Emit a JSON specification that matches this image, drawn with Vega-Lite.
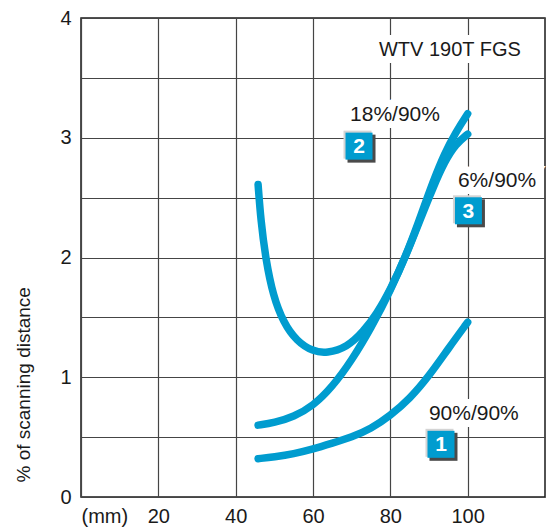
{
  "$schema": "https://vega.github.io/schema/vega-lite/v6.json",
  "width": 464,
  "height": 479,
  "autosize": {"type": "none"},
  "padding": {"left": 81, "top": 18, "right": 1, "bottom": 32},
  "background": "white",
  "config": {
    "view": {"stroke": "#1a1a1a", "strokeWidth": 1.5},
    "font": "Liberation Sans",
    "axis": {
      "domain": false,
      "ticks": false,
      "grid": true,
      "gridColor": "#454545",
      "gridWidth": 1.2,
      "gridOpacity": 1,
      "labelColor": "#1a1a1a",
      "labelFont": "Liberation Sans",
      "labelFontSize": 20
    }
  },
  "datasets": {
    "curves": [
      {"series": "90%/90%", "x": 45.8, "y": 0.32},
      {"series": "90%/90%", "x": 50, "y": 0.335},
      {"series": "90%/90%", "x": 55, "y": 0.36},
      {"series": "90%/90%", "x": 60, "y": 0.40},
      {"series": "90%/90%", "x": 65, "y": 0.45},
      {"series": "90%/90%", "x": 70, "y": 0.50},
      {"series": "90%/90%", "x": 75, "y": 0.57},
      {"series": "90%/90%", "x": 80, "y": 0.68},
      {"series": "90%/90%", "x": 85, "y": 0.82},
      {"series": "90%/90%", "x": 90, "y": 1.01},
      {"series": "90%/90%", "x": 95, "y": 1.24},
      {"series": "90%/90%", "x": 100, "y": 1.46},
      {"series": "18%/90%", "x": 45.8, "y": 0.60},
      {"series": "18%/90%", "x": 50, "y": 0.62},
      {"series": "18%/90%", "x": 55, "y": 0.67},
      {"series": "18%/90%", "x": 60, "y": 0.76},
      {"series": "18%/90%", "x": 65, "y": 0.92},
      {"series": "18%/90%", "x": 70, "y": 1.14},
      {"series": "18%/90%", "x": 75, "y": 1.41},
      {"series": "18%/90%", "x": 80, "y": 1.72},
      {"series": "18%/90%", "x": 85, "y": 2.09},
      {"series": "18%/90%", "x": 88, "y": 2.36},
      {"series": "18%/90%", "x": 91, "y": 2.63},
      {"series": "18%/90%", "x": 94, "y": 2.87},
      {"series": "18%/90%", "x": 97, "y": 3.05},
      {"series": "18%/90%", "x": 100, "y": 3.20},
      {"series": "6%/90%", "x": 45.8, "y": 2.61},
      {"series": "6%/90%", "x": 46.5, "y": 2.31},
      {"series": "6%/90%", "x": 47.8, "y": 1.98},
      {"series": "6%/90%", "x": 49.7, "y": 1.68},
      {"series": "6%/90%", "x": 52.3, "y": 1.46},
      {"series": "6%/90%", "x": 55.8, "y": 1.30},
      {"series": "6%/90%", "x": 60, "y": 1.215},
      {"series": "6%/90%", "x": 63.6, "y": 1.20},
      {"series": "6%/90%", "x": 68.8, "y": 1.25},
      {"series": "6%/90%", "x": 73, "y": 1.38},
      {"series": "6%/90%", "x": 76.5, "y": 1.53},
      {"series": "6%/90%", "x": 80, "y": 1.73},
      {"series": "6%/90%", "x": 84, "y": 2.01},
      {"series": "6%/90%", "x": 88, "y": 2.34},
      {"series": "6%/90%", "x": 91, "y": 2.58},
      {"series": "6%/90%", "x": 94, "y": 2.80},
      {"series": "6%/90%", "x": 97, "y": 2.95},
      {"series": "6%/90%", "x": 100, "y": 3.03}
    ],
    "labels": [
      {"label": "WTV 190T FGS", "x": 95.4, "y": 3.73, "size": 20},
      {"label": "18%/90%", "x": 81.2, "y": 3.19, "size": 21},
      {"label": "6%/90%", "x": 107.6, "y": 2.64, "size": 21},
      {"label": "90%/90%", "x": 101.6, "y": 0.69, "size": 21}
    ],
    "badges": [
      {"num": "1", "x": 93.1, "y": 0.44},
      {"num": "2", "x": 71.9, "y": 2.93},
      {"num": "3", "x": 100.2, "y": 2.39}
    ]
  },
  "layer": [
    {
      "data": {"name": "labels"},
      "mark": {"type": "text", "fill": "white", "stroke": "white", "strokeWidth": 14, "align": "center", "baseline": "middle"},
      "encoding": {
        "x": {
          "field": "x", "type": "quantitative",
          "scale": {"domain": [0, 120], "nice": false, "zero": false},
          "axis": {
            "values": [0, 20, 40, 60, 80, 100],
            "title": null,
            "labelPadding": 9,
            "labelExpr": "datum.value == 0 ? '(mm)' : datum.label",
            "labelAlign": {"condition": {"test": "datum.value == 0", "value": "left"}, "value": "center"}
          }
        },
        "y": {
          "field": "y", "type": "quantitative",
          "scale": {"domain": [0, 4], "nice": false},
          "axis": {
            "values": [0, 0.5, 1, 1.5, 2, 2.5, 3, 3.5, 4],
            "labelExpr": "datum.value % 1 == 0 ? format(datum.value, 'd') : ''",
            "labelPadding": 10,
            "title": "% of scanning distance",
            "titleFont": "Liberation Sans",
            "titleFontSize": 19,
            "titleFontWeight": "normal",
            "titleColor": "#1a1a1a",
            "titleAngle": 270,
            "titleAlign": "left",
            "titleBaseline": "middle",
            "titleX": -58,
            "titleY": 464
          }
        },
        "text": {"field": "label"},
        "size": {"field": "size", "type": "quantitative", "scale": null, "legend": null}
      }
    },
    {
      "data": {"name": "curves"},
      "mark": {"type": "line", "interpolate": "basis", "stroke": "#009ccf", "strokeWidth": 7.5, "strokeCap": "round", "strokeJoin": "round"},
      "encoding": {
        "x": {"field": "x", "type": "quantitative"},
        "y": {"field": "y", "type": "quantitative"},
        "detail": {"field": "series"}
      }
    },
    {
      "data": {"name": "labels"},
      "mark": {"type": "text", "fill": "#1a1a1a", "align": "center", "baseline": "middle"},
      "encoding": {
        "x": {"field": "x", "type": "quantitative"},
        "y": {"field": "y", "type": "quantitative"},
        "text": {"field": "label"},
        "size": {"field": "size", "type": "quantitative", "scale": null, "legend": null}
      }
    },
    {
      "data": {"name": "badges"},
      "mark": {"type": "square", "size": 784, "fill": "#d4d4d4", "opacity": 1, "xOffset": -1.5, "yOffset": -1.5},
      "encoding": {
        "x": {"field": "x", "type": "quantitative"},
        "y": {"field": "y", "type": "quantitative"}
      }
    },
    {
      "data": {"name": "badges"},
      "mark": {"type": "square", "size": 784, "fill": "#4a4a4a", "opacity": 1, "xOffset": 2.5, "yOffset": 2.5},
      "encoding": {
        "x": {"field": "x", "type": "quantitative"},
        "y": {"field": "y", "type": "quantitative"}
      }
    },
    {
      "data": {"name": "badges"},
      "mark": {"type": "square", "size": 729, "fill": "#009ccf", "opacity": 1},
      "encoding": {
        "x": {"field": "x", "type": "quantitative"},
        "y": {"field": "y", "type": "quantitative"}
      }
    },
    {
      "data": {"name": "badges"},
      "mark": {"type": "text", "fontSize": 21, "fontWeight": "bold", "fill": "white", "align": "center", "baseline": "middle", "dy": 1},
      "encoding": {
        "x": {"field": "x", "type": "quantitative"},
        "y": {"field": "y", "type": "quantitative"},
        "text": {"field": "num"}
      }
    }
  ]
}
